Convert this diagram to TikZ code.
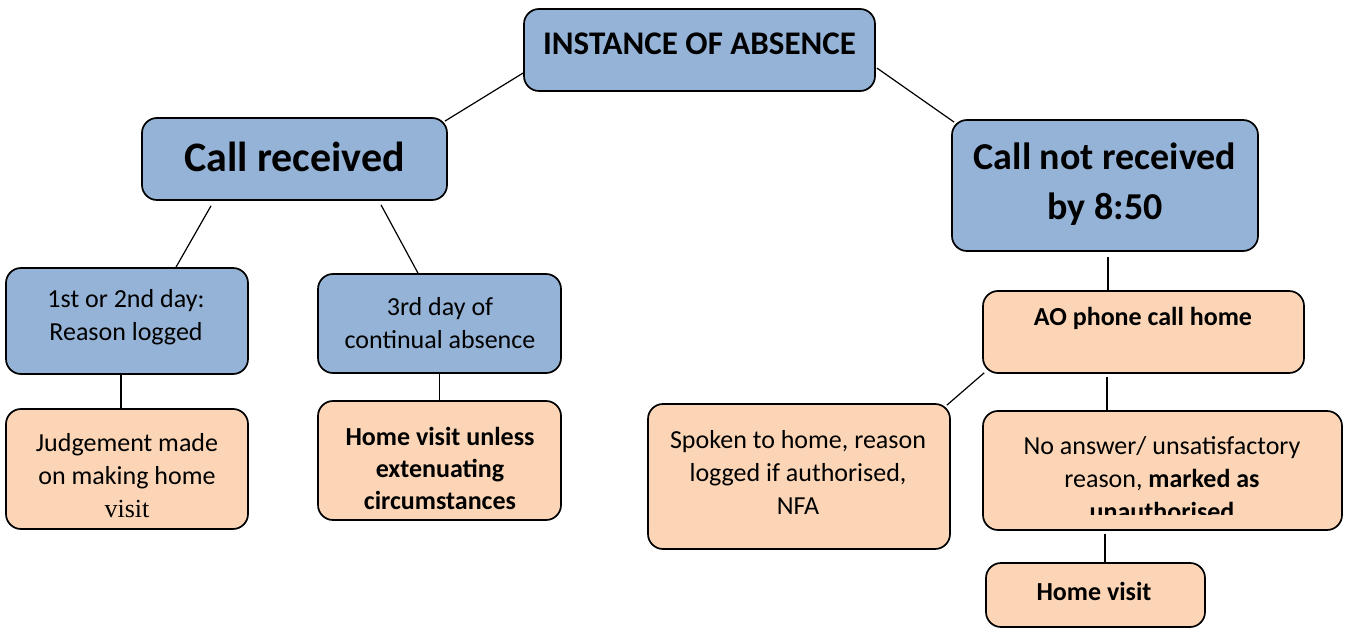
\documentclass[tikz,border=0pt]{standalone}
\usepackage{fontspec}
\setmainfont{Carlito}
\newfontfamily\serifvisit{Liberation Serif}
\usetikzlibrary{calc}
\definecolor{boxblue}{HTML}{95B3D7}
\definecolor{boxpeach}{HTML}{FBD5B5}
\tikzset{
  bbox/.style={draw=black, line width=1.7pt, rounded corners=15pt, fill=boxblue, inner sep=0pt},
  pbox/.style={draw=black, line width=1.7pt, rounded corners=15pt, fill=boxpeach, inner sep=0pt},
  txt/.style={align=center, inner sep=0pt, text=black},
  big/.style={font=\fontsize{42}{50}\selectfont\bfseries},
  head/.style={font=\fontsize{33}{39}\selectfont\bfseries},
  mid/.style={font=\fontsize{38}{50}\selectfont\bfseries},
  body/.style={font=\fontsize{26}{33}\selectfont},
  conn/.style={draw=black, line width=1.2pt}
}
\begin{document}
\begin{tikzpicture}[x=1pt,y=-1pt]
\useasboundingbox (0,0) rectangle (1352,628);
% boxes
\node[bbox, minimum width=351pt, minimum height=82pt] (top) at (699.5,50) {};
\node[bbox, minimum width=305pt, minimum height=82pt] (cr) at (294.5,159) {};
\node[bbox, minimum width=306pt, minimum height=131pt] (cnr) at (1105,185.5) {};
\node[bbox, minimum width=242pt, minimum height=106pt] (d12) at (127,321) {};
\node[bbox, minimum width=243pt, minimum height=99pt] (d3) at (439.5,323.5) {};
\node[pbox, minimum width=242pt, minimum height=120pt] (jud) at (127,469) {};
\node[pbox, minimum width=243pt, minimum height=119pt] (hv1) at (439.5,460.5) {};
\node[pbox, minimum width=321pt, minimum height=82pt] (ao) at (1143.5,332) {};
\node[pbox, minimum width=302pt, minimum height=145pt] (sp) at (799,476.5) {};
\node[pbox, minimum width=359pt, minimum height=119pt] (na) at (1162.5,470.5) {};
\node[pbox, minimum width=219pt, minimum height=64pt] (hv2) at (1095.5,595) {};
% texts
\node[txt, head] (ttop) at (699.5,44) {INSTANCE OF ABSENCE};
\node[txt, big] (tcr) at (294.5,157) {Call received};
\node[txt, mid] (tcnr) at (1105,184) {Call not received\\by 8:50};
\node[txt, body] (td12) at (126,317) {1st or 2nd day:\\Reason logged};
\node[txt, body] (td3) at (440,323) {3rd day of\\continual absence};
\node[txt, body] (tjud) at (127,476) {Judgement made\\on making home\\{\serifvisit visit}};
\node[txt, body, font=\fontsize{26}{32}\selectfont\bfseries] (thv1) at (440,468) {Home visit unless\\extenuating\\circumstances};
\node[txt, body, font=\fontsize{26}{33}\selectfont\bfseries] (tao) at (1143,318) {AO phone call home};
\node[txt, body] (tsp) at (798,472) {Spoken to home, reason\\logged if authorised,\\NFA};
\begin{scope}
\clip (983,411) rectangle (1342,514);
\node[txt, body] (tna) at (1162,479) {No answer/ unsatisfactory\\reason, \textbf{marked as}\\\textbf{unauthorised}};
\end{scope}
\node[txt, body, font=\fontsize{26}{33}\selectfont\bfseries] (thv2) at (1094,591) {Home visit};
% connectors
\draw[conn] ($(top.west)+(0,23)$) -- ($(cr.north east)+(-3,4)$);
\draw[conn] ($(top.east)+(1,18)$) -- ($(cnr.north west)+(3,3)$);
\draw[conn] ($(cr.south)+(-83.5,5)$) -- ($(d12.north)+(49,0)$);
\draw[conn] ($(cr.south)+(86.5,4)$) -- ($(d3.north)+(-21.5,0)$);
\draw[conn] ($(d12.south)+(-6,0)$) -- ($(jud.north)+(-6,0)$);
\draw[conn] (d3.south) -- (hv1.north);
\draw[conn] ($(cnr.south)+(3,5)$) -- ($(ao.north)+(-35.5,0)$);
\draw[conn] ($(ao.south west)+(2,-1)$) -- ($(sp.north east)+(-4,2)$);
\draw[conn] ($(ao.south)+(-36.5,3)$) -- ($(na.north)+(-55.5,0)$);
\draw[conn] ($(na.south)+(-57.5,3)$) -- ($(hv2.north)+(9.5,0)$);
\end{tikzpicture}
\end{document}
